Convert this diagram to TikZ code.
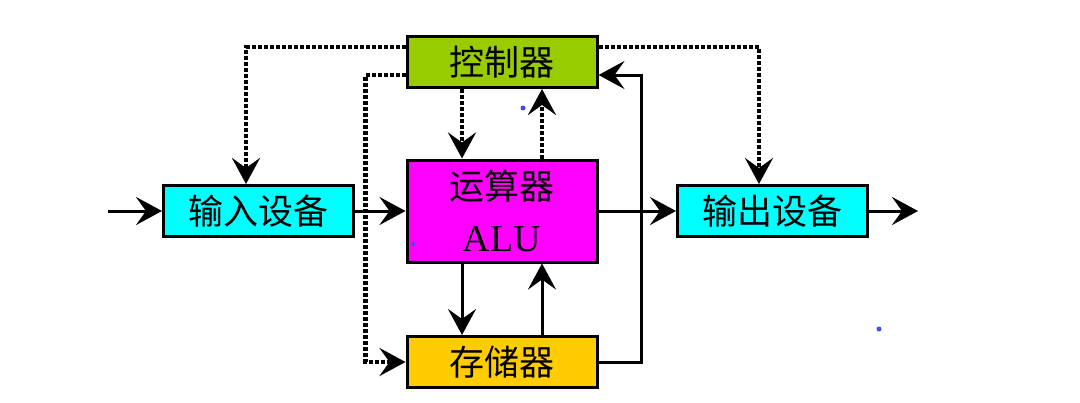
\documentclass[tikz,border=0pt]{standalone}
\usepackage{fontspec}
\setmainfont{Liberation Serif}
\newfontfamily\cjk{Noto Sans CJK SC}
\usetikzlibrary{arrows.meta}
\definecolor{ctrlgreen}{HTML}{99CC00}
\definecolor{alumag}{HTML}{FF00FF}
\definecolor{memyel}{HTML}{FFCC00}
\definecolor{iocyan}{HTML}{00FFFF}
\definecolor{dotblue}{HTML}{4050E0}
\begin{document}
\begin{tikzpicture}[x=1pt,y=-1pt,line join=miter,
  box/.style={draw=black,line width=3pt,minimum width=190pt,minimum height=51pt,inner sep=0pt,font=\cjk\fontsize{35}{40}\selectfont},
  lbl/.style={inner sep=0pt,font=\cjk\fontsize{35}{40}\selectfont},
  lbllat/.style={inner sep=0pt,font=\fontsize{38}{42}\selectfont},
  arr/.style={-{Stealth[length=26pt,width=28pt,inset=10pt]}},
  solidline/.style={line width=3pt},
  dotline/.style={line width=4.5pt,dash pattern=on 4pt off 2pt}]
\useasboundingbox (0,0) rectangle (1080,402);
\fill[white] (0,0) rectangle (1080,402);
% boxes
\node[box,fill=ctrlgreen] (ctrl) at (502,62) {控制器};
\node[box,fill=alumag,minimum height=102pt] (alu) at (502,211) {};
\node[lbl] (alut) at (502,186) {运算器};
\node[lbllat] (alub) at (502,239) {ALU};
\node[box,fill=memyel] (mem) at (502,362) {存储器};
\node[box,fill=iocyan] (in) at (258.5,211) {输入设备};
\node[box,fill=iocyan] (out) at (772.5,211) {输出设备};
\coordinate (src) at (108,211);
\coordinate (dst) at (918,211);
% solid data paths
\draw[solidline,arr] (src) -- (in.west);
\draw[solidline,arr] (in.east) -- (alu.west);
\draw[solidline,arr] (alu.east) -- (out.west);
\draw[solidline,arr] (out.east) -- (dst);
\draw[solidline,arr] ([xshift=-40pt]alu.south) -- ([xshift=-40pt]mem.north);
\draw[solidline,arr] ([xshift=40pt]mem.north) -- ([xshift=40pt]alu.south);
\draw[solidline,arr] (mem.east) -- ++(43,0) |- ([yshift=-13pt]ctrl.east);
% dotted control paths
\draw[dotline,arr] ([yshift=15pt]ctrl.west) -| ([xshift=-12.5pt]in.north);
\draw[dotline,arr] ([yshift=15pt]ctrl.east) -| ([xshift=-13.5pt]out.north);
\draw[dotline,arr] ([yshift=-13pt]ctrl.west) -- ++(-40,0) |- (mem.west);
\draw[dotline,arr] ([xshift=-40pt]ctrl.south) -- ([xshift=-40pt]alu.north);
\draw[dotline,arr] ([xshift=40pt]alu.north) -- ([xshift=40pt]ctrl.south);
% small blue dots
\fill[dotblue] (523,108) circle (2.5pt);
\fill[dotblue] (413,244) circle (2pt);
\fill[dotblue] (879,329) circle (2.5pt);
\end{tikzpicture}
\end{document}
